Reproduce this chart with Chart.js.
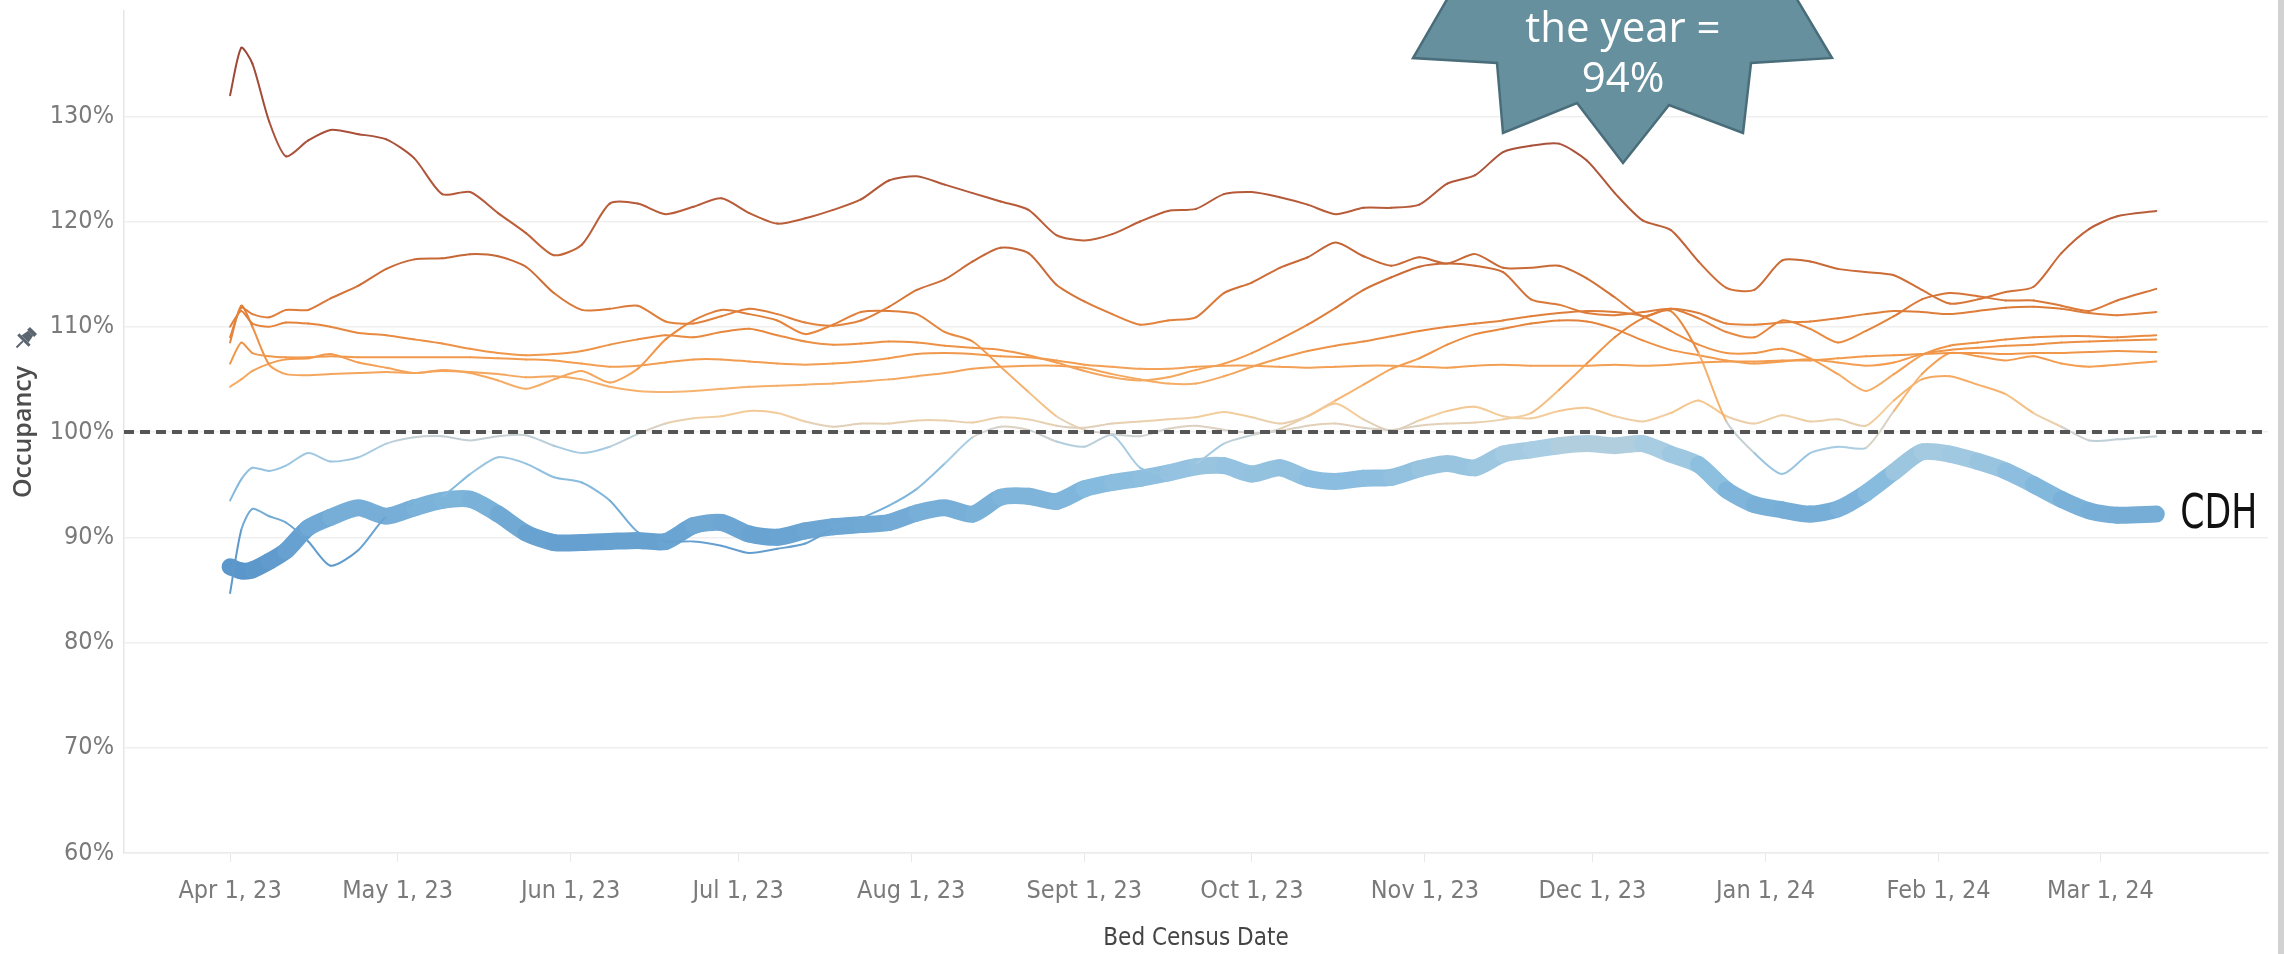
<!DOCTYPE html>
<html>
<head>
<meta charset="utf-8">
<script src="https://cdn.jsdelivr.net/npm/chart.js@4.4.1/dist/chart.umd.min.js"></script>
<style>
  html, body { margin: 0; padding: 0; background: #ffffff; }
  #wrap { position: relative; width: 2284px; height: 954px; overflow: hidden; }
  #edge { position: absolute; right: 0; top: 0; width: 6px; height: 954px; background: #d2d2d2; }
</style>
</head>
<body>
<div id="wrap">
  <canvas id="occChart" width="2284" height="954"></canvas>
  <div id="edge"></div>
</div>
<script>
// days since Apr 1, 2023 (7-day rolling census)
const days = [0, 2, 4, 7, 10, 14, 18, 23, 28, 33, 38, 43, 48, 53, 58, 63, 68, 73, 78, 83,
  88, 93, 98, 103, 108, 113, 118, 123, 128, 133, 138, 143, 148, 153, 158, 163, 168, 173, 178, 183,
  188, 193, 198, 203, 208, 213, 218, 223, 228, 233, 238, 243, 248, 253, 258, 263, 268, 273, 278, 283,
  288, 293, 298, 303, 308, 313, 318, 323, 328, 333, 338, 345];

const monthTicks = [0, 30, 61, 91, 122, 153, 183, 214, 244, 275, 306, 335];
const monthLabels = ["Apr 1, 23", "May 1, 23", "Jun 1, 23", "Jul 1, 23", "Aug 1, 23", "Sept 1, 23",
  "Oct 1, 23", "Nov 1, 23", "Dec 1, 23", "Jan 1, 24", "Feb 1, 24", "Mar 1, 24"];
const yTicks = [60, 70, 80, 90, 100, 110, 120, 130];
const capacityLine = 100;

// occupancy % by hospital
const hospA = [132, 136.5, 135, 129.5, 126.2, 127.7, 128.7, 128.3, 127.8, 126, 122.6, 122.8, 120.8, 118.9, 116.8, 117.8, 121.7,
  121.7, 120.7, 121.4, 122.2, 120.8, 119.8, 120.3, 121.1, 122.1, 123.9, 124.3, 123.5, 122.7, 121.9, 121.1, 118.7, 118.2, 118.8,
  120, 121, 121.2, 122.6, 122.8, 122.3, 121.6, 120.7, 121.3, 121.3, 121.6, 123.6, 124.4, 126.6, 127.2, 127.4, 125.8, 122.7,
  120.1, 119.2, 116.2, 113.7, 113.5, 116.3, 116.2, 115.5, 115.2, 114.9, 113.5, 112.2, 112.6, 113.3, 113.8, 117, 119.3, 120.5, 121];
const hospB = [109, 111.8, 111.2, 110.9, 111.6, 111.6, 112.7, 113.9, 115.5, 116.4, 116.5, 116.9, 116.7, 115.7, 113.2, 111.6, 111.7,
  112, 110.5, 110.3, 111, 111.7, 111.2, 110.4, 110.1, 110.6, 111.9, 113.5, 114.5, 116.2, 117.5, 117, 114, 112.4, 111.2, 110.2, 110.6,
  110.9, 113.2, 114.2, 115.6, 116.6, 118, 116.7, 115.8, 116.6, 116, 116.9, 115.6, 115.6, 115.8, 114.6, 112.8, 111, 111.7, 110.8, 109.5,
  109, 110.6, 109.8, 108.5, 109.6, 111, 112.6, 113.2, 112.9, 112.5, 112.5, 112, 111.5, 112.5, 113.6];
const hospC = [110, 111.5, 110.3, 110, 110.4, 110.3, 110, 109.4, 109.2, 108.8, 108.4, 107.9, 107.5, 107.3, 107.4, 107.7, 108.3,
  108.8, 109.2, 109, 109.5, 109.8, 109.2, 108.6, 108.3, 108.4, 108.6, 108.5, 108.2, 108, 107.8, 107.3, 106.6, 105.8, 105.2, 104.9, 105.2,
  105.9, 106.5, 107.5, 108.8, 110.2, 111.8, 113.5, 114.7, 115.7, 116, 115.8, 115.2, 112.6, 112.1, 111.3, 111.1, 111.4, 111.7, 111.3, 110.3,
  110.2, 110.4, 110.5, 110.8, 111.2, 111.5, 111.4, 111.2, 111.5, 111.8, 111.9, 111.7, 111.3, 111.1, 111.4];
const hospD = [106.5, 108.5, 107.5, 107.2, 107.1, 107.1, 107.2, 107.1, 107.1, 107.1, 107.1, 107.1, 107, 106.9, 106.8, 106.5, 106.2,
  106.3, 106.6, 106.9, 106.9, 106.7, 106.5, 106.4, 106.5, 106.7, 107, 107.4, 107.5, 107.4, 107.2, 107.1, 106.8, 106.4, 106.2, 106, 106,
  106.2, 106.3, 106.3, 106.2, 106.1, 106.2, 106.3, 106.3, 106.2, 106.1, 106.3, 106.4, 106.3, 106.3, 106.3, 106.4, 106.3, 106.4, 106.6, 106.7,
  106.7, 106.8, 106.8, 107, 107.2, 107.3, 107.4, 107.5, 107.5, 107.4, 107.5, 107.5, 107.6, 107.7, 107.6];
const hospE = [108.5, 112, 110, 106.4, 105.5, 105.4, 105.5, 105.6, 105.7, 105.6, 105.8, 105.7, 105.5, 105.2, 105.3, 105, 104.3,
  103.9, 103.8, 103.9, 104.1, 104.3, 104.4, 104.5, 104.6, 104.8, 105, 105.3, 105.6, 106, 106.2, 106.3, 106.3, 106.1, 105.5, 105, 104.6,
  104.6, 105.3, 106.2, 107, 107.7, 108.2, 108.6, 109.1, 109.6, 110, 110.3, 110.6, 111, 111.3, 111.5, 111.4, 111, 109.6, 108.3, 107.5,
  107.5, 107.9, 107, 105.5, 103.9, 105.5, 107.3, 108.2, 108.5, 108.8, 109, 109.1, 109.1, 109, 109.2];
const hospF = [104.3, 105, 105.8, 106.5, 106.9, 107, 107.4, 106.6, 106.1, 105.6, 105.9, 105.6, 104.9, 104.1, 105, 105.8, 104.7,
  106, 108.8, 110.6, 111.6, 111.2, 110.6, 109.3, 110.2, 111.4, 111.5, 111.2, 109.5, 108.6, 106.2, 103.8, 101.5, 100.2, 99.8, 99.6, 100.3,
  100.6, 100.2, 99.9, 100.1, 100.6, 100.8, 100.4, 100.2, 100.6, 100.8, 100.9, 101.2, 101.8, 104, 106.5, 109, 110.8, 111.5, 107.5, 101,
  98, 96, 98, 98.6, 98.5, 102, 105.5, 107.5, 107.2, 106.8, 107.2, 106.5, 106.2, 106.4, 106.7];
const hospG = [93.5, 95.5, 96.6, 96.3, 96.8, 98, 97.2, 97.6, 98.9, 99.5, 99.6, 99.2, 99.6, 99.7, 98.7, 98, 98.6,
  99.8, 100.8, 101.3, 101.5, 102, 101.8, 101, 100.5, 100.8, 100.8, 101.1, 101.1, 100.9, 101.4, 101.2, 100.6, 100.4, 100.8, 101, 101.2,
  101.4, 101.9, 101.4, 100.8, 101.5, 102.7, 101.2, 100.1, 101.1, 102, 102.4, 101.5, 101.3, 102, 102.3, 101.5, 101, 101.8, 103, 101.5,
  100.8, 101.6, 101, 101.2, 100.6, 103, 105, 105.3, 104.5, 103.6, 101.8, 100.5, 99.2, 99.3, 99.6];
const hospH = [84.7, 90.7, 92.7, 92, 91.4, 89.6, 87.3, 88.8, 92, 93.2, 93.9, 96, 97.6, 97, 95.7, 95.2, 93.5,
  90.5, 89.6, 89.6, 89.2, 88.5, 88.9, 89.4, 90.8, 91.8, 93, 94.6, 97, 99.5, 100.5, 100.2, 99.1, 98.6, 99.7, 96.6, 96,
  97, 98.9, 99.7, 100.3, 101.5, 103, 104.5, 106, 107, 108.3, 109.3, 109.8, 110.3, 110.6, 110.5, 109.8, 108.7, 107.8, 107.3, 106.8,
  106.5, 106.7, 106.9, 106.6, 106.3, 106.6, 107.4, 107.8, 108, 108.2, 108.3, 108.5, 108.6, 108.7, 108.8];
const cdh = [87.2, 86.8, 86.9, 87.7, 88.7, 90.9, 91.9, 92.8, 92, 92.8, 93.5, 93.6, 92.2, 90.4, 89.5, 89.5, 89.6,
  89.7, 89.6, 91.1, 91.4, 90.3, 90, 90.6, 91, 91.2, 91.4, 92.3, 92.8, 92.2, 93.8, 93.9, 93.4, 94.6, 95.2, 95.6, 96.1,
  96.7, 96.8, 96, 96.6, 95.6, 95.3, 95.6, 95.7, 96.5, 97, 96.6, 97.9, 98.3, 98.7, 98.9, 98.7, 98.9, 97.9, 96.9, 94.5,
  93.1, 92.6, 92.2, 92.7, 94.2, 96.2, 98.1, 97.9, 97.2, 96.3, 95, 93.6, 92.5, 92.1, 92.2];

const hospitals = [hospA, hospB, hospC, hospD, hospE, hospF, hospG, hospH];

// diverging orange-blue scale centred on 100%
const scaleStops = [84, 90, 95, 98.5, 100, 101.5, 104, 107, 110, 114, 119, 126, 137];
const scaleColors = ['#4f8bc4', '#68a2d1', '#86bbde', '#a9cde2', '#d3d1cd', '#f3cf9f', '#f6b26e',
  '#f29a4d', '#e5853d', '#d06f36', '#bd6038', '#ac533b', '#9a4638'];

function hexRgb(h) {
  return [1, 3, 5].map(i => parseInt(h.slice(i, i + 2), 16));
}
function occColor(v) {
  if (v <= scaleStops[0]) return scaleColors[0];
  for (let i = 1; i < scaleStops.length; i++) {
    if (v <= scaleStops[i]) {
      const f = (v - scaleStops[i - 1]) / (scaleStops[i] - scaleStops[i - 1]);
      const a = hexRgb(scaleColors[i - 1]), b = hexRgb(scaleColors[i]);
      const c = a.map((k, j) => Math.round(k + (b[j] - k) * f));
      return 'rgb(' + c.join(',') + ')';
    }
  }
  return scaleColors[scaleColors.length - 1];
}
function segColor(c) {
  return occColor((c.p0.parsed.y + c.p1.parsed.y) / 2);
}
function toPoints(vals) {
  return vals.map((v, i) => ({ x: days[i], y: v }));
}

const narrowFont = "'Liberation Sans Narrow', 'DejaVu Sans Condensed', 'Roboto Condensed', Roboto, sans-serif";

const datasets = hospitals.map((vals, i) => ({
  label: 'Hospital ' + (i + 1),
  data: toPoints(vals),
  borderWidth: 2,
  borderColor: occColor(vals[0]),
  segment: { borderColor: segColor },
  order: 1
}));
datasets.push({
  label: 'CDH',
  data: toPoints(cdh),
  borderWidth: 17,
  borderColor: occColor(cdh[0]),
  segment: { borderColor: segColor },
  order: 5
});
const cdhIndex = datasets.length - 1;

const overlay = {
  id: 'overlay',
  afterDatasetsDraw(chart) {
    const { ctx, chartArea: area, scales: { y } } = chart;
    const refY = y.getPixelForValue(capacityLine);
    ctx.save();
    ctx.strokeStyle = '#555555';
    ctx.lineWidth = 4;
    ctx.setLineDash([10, 6]);
    ctx.beginPath();
    ctx.moveTo(area.left, refY);
    ctx.lineTo(area.right - 2, refY);
    ctx.stroke();
    ctx.restore();

    // label at the end of the CDH line, squeezed to the slide's narrow face
    const meta = chart.getDatasetMeta(cdhIndex);
    const last = meta.data[meta.data.length - 1];
    ctx.save();
    ctx.font = '48px ' + narrowFont;
    ctx.fillStyle = '#111111';
    ctx.textBaseline = 'middle';
    const w = ctx.measureText('CDH').width;
    ctx.translate(last.x + 24, last.y + 1);
    ctx.scale(77 / w, 1);
    ctx.fillText('CDH', 0, 0);
    ctx.restore();
  },
  afterDraw(chart) {
    const ctx = chart.ctx;
    // starburst callout (top cut off like the slide)
    const star = [[1449, -4], [1795, -4], [1832, 58], [1751, 63], [1743, 133], [1669, 105], [1623, 163],
      [1577, 103], [1503, 133], [1497, 63], [1413, 58]];
    ctx.save();
    ctx.beginPath();
    star.forEach((p, i) => i ? ctx.lineTo(p[0], p[1]) : ctx.moveTo(p[0], p[1]));
    ctx.closePath();
    ctx.fillStyle = '#67909f';
    ctx.fill();
    ctx.lineWidth = 2.5;
    ctx.strokeStyle = '#4a6d7a';
    ctx.stroke();
    ctx.fillStyle = '#ffffff';
    ctx.font = "42px 'Open Sans', sans-serif";
    ctx.textAlign = 'center';
    ctx.textBaseline = 'alphabetic';
    ctx.fillText('the year =', 1623, 42);
    ctx.fillText('94%', 1623, 92);
    ctx.restore();

    // pin icon next to the y axis title
    ctx.save();
    ctx.translate(25, 339);
    ctx.rotate(Math.PI / 4);
    ctx.fillStyle = '#5a6570';
    ctx.strokeStyle = '#5a6570';
    ctx.fillRect(-5, -12, 10, 4);
    ctx.beginPath();
    ctx.moveTo(-3.5, -8); ctx.lineTo(3.5, -8); ctx.lineTo(5, 0); ctx.lineTo(-5, 0);
    ctx.closePath(); ctx.fill();
    ctx.fillRect(-8, 0, 16, 3);
    ctx.lineWidth = 2;
    ctx.beginPath(); ctx.moveTo(0, 3); ctx.lineTo(0, 12); ctx.stroke();
    ctx.restore();
  }
};

new Chart(document.getElementById('occChart').getContext('2d'), {
  type: 'line',
  data: { datasets: datasets },
  options: {
    responsive: false,
    animation: false,
    devicePixelRatio: 1,
    events: [],
    layout: { padding: { top: 11, right: 16, bottom: 0, left: 0 } },
    elements: {
      point: { radius: 0 },
      line: { tension: 0.25, borderCapStyle: 'round', borderJoinStyle: 'round' }
    },
    plugins: { legend: { display: false }, tooltip: { enabled: false } },
    scales: {
      x: {
        type: 'linear',
        min: -19,
        max: 365,
        afterBuildTicks: s => { s.ticks = monthTicks.map(v => ({ value: v })); },
        afterFit: s => { s.height = 101; s.paddingLeft = 0; s.paddingRight = 0; },
        ticks: {
          autoSkip: false,
          maxRotation: 0,
          padding: 14,
          color: '#7a7a7a',
          font: { family: narrowFont, size: 25 },
          callback: (v, i) => monthLabels[i]
        },
        grid: { drawOnChartArea: false, tickLength: 9, color: '#e8e8e8' },
        border: { color: '#ebebeb', width: 1.5 },
        title: {
          display: true,
          text: 'Bed Census Date',
          color: '#444444',
          font: { family: narrowFont, size: 24 },
          padding: { top: 0, bottom: 1 }
        }
      },
      y: {
        min: 60,
        max: 140,
        afterBuildTicks: s => { s.ticks = yTicks.map(v => ({ value: v })); },
        afterFit: s => { s.width = 124; s.paddingTop = 0; s.paddingBottom = 0; },
        ticks: {
          padding: 10,
          color: '#7a7a7a',
          font: { family: narrowFont, size: 25 },
          callback: v => v + '%'
        },
        grid: { color: '#efefef', lineWidth: 1.5, drawTicks: false },
        border: { color: '#e6e6e6', width: 1.5 },
        title: {
          display: true,
          text: 'Occupancy',
          color: '#4d4d4d',
          font: { family: "'Open Sans', sans-serif", size: 25, weight: '600' },
          padding: { top: 9, bottom: 0 }
        }
      }
    }
  },
  plugins: [overlay]
});
</script>
</body>
</html>
